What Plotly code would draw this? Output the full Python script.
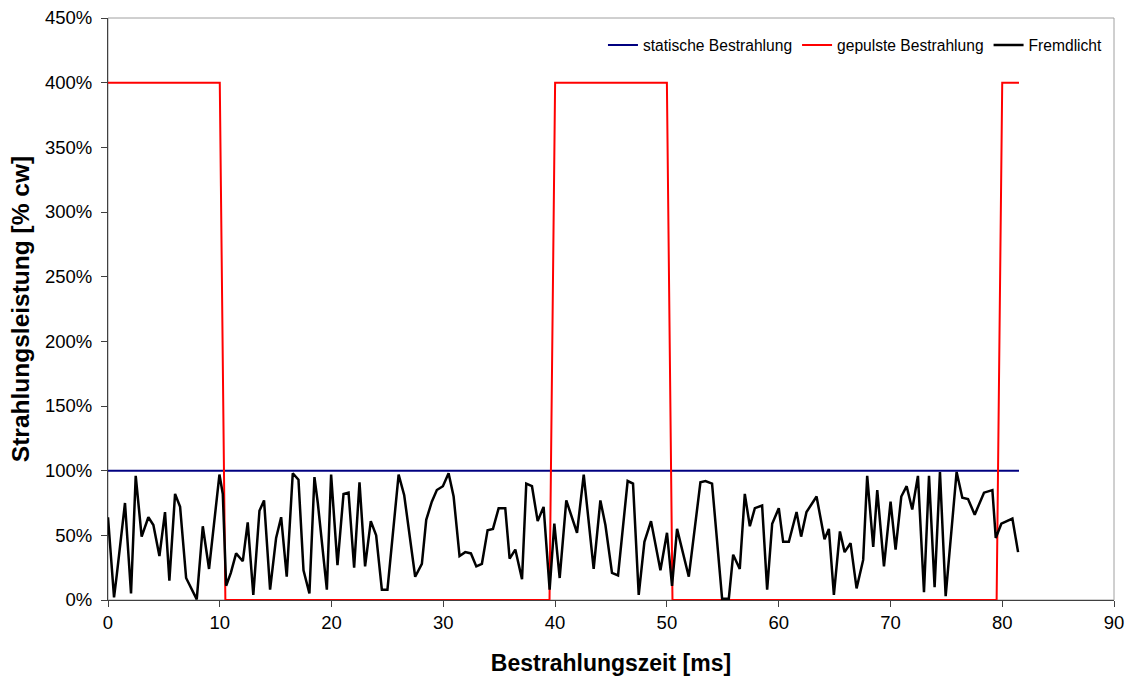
import plotly.graph_objects as go

# statische Bestrahlung (constant 100 %)
static_t = [0.0, 81.5]
static_v = [1.0, 1.0]

# gepulste Bestrahlung
pulse_t = [0.0, 10.0, 10.1, 10.2, 10.3, 10.4, 10.5, 39.5, 39.6, 39.7, 39.8, 39.9, 40.0,
           50.0, 50.1, 50.2, 50.3, 50.4, 50.5, 79.5, 79.6, 79.7, 79.8, 79.9, 80.0, 81.5]
pulse_v = [4.0, 4.0, 3.2, 2.4, 1.6, 0.8, 0.0, 0.0, 0.8, 1.6, 2.4, 3.2, 4.0,
           4.0, 3.2, 2.4, 1.6, 0.8, 0.0, 0.0, 0.8, 1.6, 2.4, 3.2, 4.0, 4.0]

# Fremdlicht (ambient light)
fremd_t = [0.0, 0.54, 0.78, 1.52, 2.06, 2.48, 3.01, 3.61, 4.06, 4.6, 5.1, 5.49, 6.0, 6.45,
           6.99, 7.94, 8.48, 9.04, 9.97, 10.27, 10.57, 10.99, 11.46, 12.06, 12.5, 13.0,
           13.55, 13.96, 14.5, 15.04, 15.49, 15.99, 16.53, 17.04, 17.49, 18.02, 18.47,
           18.77, 19.58, 19.96, 20.53, 21.07, 21.52, 22.02, 22.5, 23.0, 23.51, 23.99, 24.5,
           25.0, 26.0, 26.5, 27.48, 28.08, 28.47, 28.97, 29.42, 29.96, 30.47, 30.92, 31.45,
           31.96, 32.47, 32.95, 33.45, 33.96, 34.44, 34.95, 35.54, 35.93, 36.44, 37.04,
           37.42, 37.93, 38.44, 38.97, 39.51, 39.93, 40.41, 41.0, 41.96, 42.56, 43.45,
           44.05, 44.5, 45.09, 45.63, 46.49, 46.97, 47.48, 47.99, 48.58, 49.42, 50.01,
           50.46, 50.91, 51.96, 53.0, 53.45, 54.04, 54.94, 55.54, 55.93, 56.52, 56.97,
           57.42, 57.87, 58.52, 58.97, 59.42, 60.01, 60.4, 60.91, 61.6, 62.01, 62.49,
           63.39, 64.1, 64.49, 64.94, 65.48, 65.9, 66.43, 66.97, 67.56, 67.92, 68.46,
           68.82, 69.42, 70.01, 70.46, 70.97, 71.45, 71.95, 72.46, 73.0, 73.45, 73.95,
           74.43, 74.94, 75.92, 76.43, 76.94, 77.54, 78.37, 79.12, 79.42, 79.92, 80.91,
           81.42]
fremd_v = [64, 2, 19, 75, 5, 96, 49, 64, 58, 34, 68, 15, 82, 72,
           17, 0.5, 57, 24, 97, 82, 11, 21, 36, 30, 60, 4,
           69, 77, 8, 48, 64, 18, 98, 93, 23, 5, 95,
           75, 8, 97, 27, 82, 83, 25, 91, 26, 61, 50, 8,
           8, 97, 81, 18, 28, 62, 76, 85, 88, 98, 80, 34,
           37, 36, 26, 28, 54, 55, 71, 71, 32, 39, 16,
           90, 88, 61, 72, 8, 59, 17, 77, 52, 97, 24,
           77, 58, 21, 19, 92, 90, 4, 45, 61, 23, 52,
           11, 55, 18, 91, 92, 90, 1, 1, 35, 24, 82,
           57, 71, 73, 8, 59, 71, 45, 45, 68, 49, 68,
           80, 47, 55, 4, 53, 37, 44, 9, 31, 96, 41,
           85, 26, 76, 39, 80, 88, 70, 96, 6, 96, 10,
           99, 3, 99, 79, 78, 66, 83, 85, 48, 59, 63,
           37]
fremd_frac = [v / 100.0 for v in fremd_v]

x_ticks = list(range(0, 91, 10))
y_ticks = [i * 0.5 for i in range(10)]
y_labels = [f"{int(round(v * 100))}%" for v in y_ticks]

FONT = "Liberation Sans, Arial, sans-serif"

fig = go.Figure()
fig.add_trace(go.Scatter(x=static_t, y=static_v, mode="lines", name="statische Bestrahlung",
                         line=dict(color="#000080", width=2)))
fig.add_trace(go.Scatter(x=pulse_t, y=pulse_v, mode="lines", name="gepulste Bestrahlung",
                         line=dict(color="#FF0000", width=2)))
fig.add_trace(go.Scatter(x=fremd_t, y=fremd_frac, mode="lines", name="Fremdlicht",
                         line=dict(color="#000000", width=2.5)))

axis_font = dict(family=FONT, size=18.5, color="#000000")

fig.add_shape(type="rect", xref="paper", yref="paper", x0=0, y0=0, x1=1, y1=1,
              line=dict(color="#A0A0A0", width=1), layer="below")

fig.update_layout(
    width=1129, height=677,
    margin=dict(l=108, r=15, t=18, b=77),
    paper_bgcolor="white", plot_bgcolor="white",
    font=dict(family=FONT, color="#000000"),
    showlegend=True,
    legend=dict(orientation="h", x=0.994, xanchor="right", y=0.982, yanchor="top",
                font=dict(family=FONT, size=15.6, color="#000000"),
                bgcolor="rgba(0,0,0,0)", itemwidth=30, tracegroupgap=0),
    xaxis=dict(range=[0, 90], tickvals=x_ticks, ticktext=[str(v) for v in x_ticks],
               showgrid=False, zeroline=False, showline=True, linecolor="#404040", linewidth=1,
               ticks="outside", ticklen=6, tickcolor="#404040", tickfont=axis_font,
               automargin=False,
               title=dict(text="<b>Bestrahlungszeit [ms]</b>",
                          font=dict(family=FONT, size=23, color="#000000"), standoff=22)),
    yaxis=dict(range=[0, 4.5], tickvals=y_ticks, ticktext=y_labels,
               showgrid=False, zeroline=False, showline=True, linecolor="#404040", linewidth=1,
               ticks="outside", ticklen=6, tickcolor="#404040", tickfont=axis_font,
               ticklabelstandoff=5, automargin=False,
               title=dict(text="<b>Strahlungsleistung [% cw]</b>",
                          font=dict(family=FONT, size=24.5, color="#000000"), standoff=8)),
)

fig.write_html("out.html")
